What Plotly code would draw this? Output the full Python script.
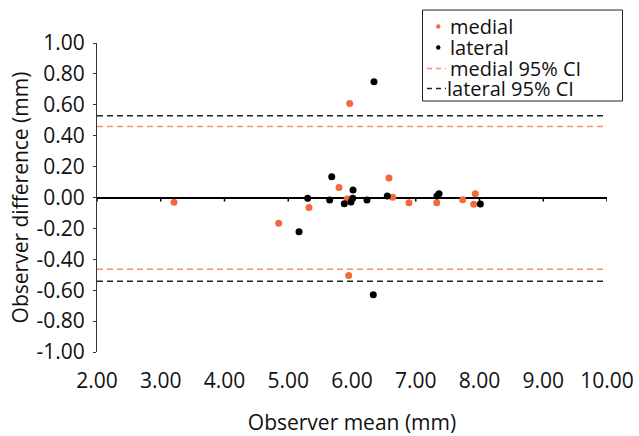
import plotly.graph_objects as go

# Data
medial_mean = [3.208, 4.850, 5.325, 5.796, 5.922, 5.964, 5.948, 6.580, 6.638, 6.894, 7.329, 7.736, 7.909, 7.934]
medial_diff = [-0.031, -0.166, -0.064, 0.064, -0.010, 0.609, -0.505, 0.127, 0.001, -0.034, -0.034, -0.014, -0.044, 0.025]

lateral_mean = [5.169, 5.305, 5.650, 5.682, 5.879, 5.984, 6.011, 6.016, 6.235, 6.345, 6.334, 6.554, 7.333, 7.365, 8.013]
lateral_diff = [-0.222, -0.005, -0.016, 0.135, -0.040, -0.029, -0.005, 0.049, -0.016, 0.750, -0.629, 0.010, 0.010, 0.025, -0.042]

medial_ci = [0.460, -0.464]
lateral_ci = [0.529, -0.542]

x_ticks = [2, 3, 4, 5, 6, 7, 8, 9, 10]
x_ticktext = ["2.00", "3.00", "4.00", "5.00", "6.00", "7.00", "8.00", "9.00", "10.00"]
y_ticks = [-1.0, -0.8, -0.6, -0.4, -0.2, 0.0, 0.2, 0.4, 0.6, 0.8, 1.0]
y_ticktext = ["-1.00", "-0.80", "-0.60", "-0.40", "-0.20", "0.00", "0.20", "0.40", "0.60", "0.80", "1.00"]

legend_labels = ["medial", "lateral", "medial 95% CI", "lateral 95% CI"]

x_range = [2, 10]
y_range = [-1, 1]

FONT = "Open Sans"
ORANGE = "#F4693C"
ORANGE_CI = "#F7916C"
BLACK = "#000000"
DARK = "#222222"

# plot-area geometry (pixels) for placing the hand-built legend
L, R, T, B = 97, 607, 43, 352


def pxx(x):
    return (x - L) / (R - L)


def pxy(y):
    return (B - y) / (B - T)


fig = go.Figure()

# tick marks along the zero line (x axis crossing at 0)
fig.add_trace(go.Scatter(
    x=x_ticks, y=[0] * len(x_ticks), mode="markers",
    marker=dict(size=1, color="rgba(0,0,0,0)"),
    error_y=dict(type="data", symmetric=False, array=[0] * len(x_ticks),
                 arrayminus=[0.026] * len(x_ticks), width=0, thickness=1.5, color=BLACK),
    showlegend=False, hoverinfo="skip"))

fig.add_trace(go.Scatter(
    x=[x_range[0], x_range[1], None, x_range[0], x_range[1]],
    y=[medial_ci[0], medial_ci[0], None, medial_ci[1], medial_ci[1]],
    mode="lines", name=legend_labels[2], showlegend=False,
    line=dict(color=ORANGE_CI, width=1.5, dash="6px,4px")))

fig.add_trace(go.Scatter(
    x=[x_range[0], x_range[1], None, x_range[0], x_range[1]],
    y=[lateral_ci[0], lateral_ci[0], None, lateral_ci[1], lateral_ci[1]],
    mode="lines", name=legend_labels[3], showlegend=False,
    line=dict(color=DARK, width=1.5, dash="6px,4px")))

fig.add_trace(go.Scatter(
    x=medial_mean, y=medial_diff, mode="markers", name=legend_labels[0], showlegend=False,
    marker=dict(color=ORANGE, size=7)))

fig.add_trace(go.Scatter(
    x=lateral_mean, y=lateral_diff, mode="markers", name=legend_labels[1], showlegend=False,
    marker=dict(color=BLACK, size=7)))

# ---- hand-built legend (box, glyphs, texts) ----
shapes = [
    dict(type="rect", xref="paper", yref="paper",
         x0=pxx(422.5), x1=pxx(622.5), y0=pxy(101), y1=pxy(10),
         line=dict(color=DARK, width=1), fillcolor="white", layer="above"),
]
row_y = [26.5, 47.5, 68.5, 88.5]
dot_colors = [ORANGE, BLACK]
for i, c in enumerate(dot_colors):
    r = 2.2
    shapes.append(dict(type="circle", xref="paper", yref="paper",
                       x0=pxx(438.3 - r), x1=pxx(438.3 + r),
                       y0=pxy(row_y[i] + r), y1=pxy(row_y[i] - r),
                       line=dict(width=0), fillcolor=c, layer="above"))
line_colors = [ORANGE_CI, DARK]
for j, c in enumerate(line_colors):
    yy = row_y[2 + j]
    shapes.append(dict(type="line", xref="paper", yref="paper",
                       x0=pxx(427), x1=pxx(446), y0=pxy(yy), y1=pxy(yy),
                       line=dict(color=c, width=1.5, dash="5px,4px"), layer="above"))

text_x = [451, 450.5, 451, 448]
annotations = []
for k, lab in enumerate(legend_labels):
    annotations.append(dict(text=lab, xref="paper", yref="paper",
                            x=pxx(text_x[k]), y=pxy(row_y[k] - 0.5),
                            xanchor="left", yanchor="middle", showarrow=False,
                            xshift=-2, height=20, valign="middle", borderpad=0,
                            font=dict(family=FONT, size=20, color="#111111")))

fig.update_layout(
    width=639, height=436,
    margin=dict(l=L, r=639 - R, t=T, b=436 - B, autoexpand=False),
    paper_bgcolor="white", plot_bgcolor="white",
    font=dict(family=FONT, size=21, color="#111111"),
    showlegend=False,
    shapes=shapes,
    annotations=annotations,
    xaxis=dict(range=x_range, tickvals=x_ticks, ticktext=x_ticktext,
               showgrid=False, zeroline=False, showline=False, ticks="",
               ticklabelstandoff=14,
               title=dict(text="Observer mean (mm)", standoff=22,
                          font=dict(family=FONT, size=21))),
    yaxis=dict(range=y_range, tickvals=y_ticks, ticktext=y_ticktext,
               showgrid=False, zeroline=True, zerolinecolor=BLACK, zerolinewidth=1.5,
               showline=True, linecolor="#333333", linewidth=1.2,
               ticks="outside", ticklen=3, tickcolor="#333333",
               ticklabelstandoff=4,
               title=dict(text="Observer difference (mm)", standoff=2,
                          font=dict(family=FONT, size=21))),
)

fig.write_html("out.html", config={"displayModeBar": False},
               post_script="document.body.style.margin='0px';")
